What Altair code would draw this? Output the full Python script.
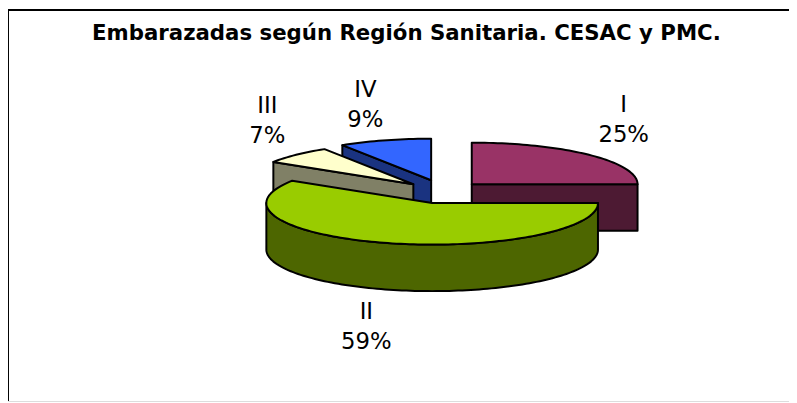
import math
import altair as alt
import pandas as pd

TITLE = "Embarazadas según Región Sanitaria. CESAC y PMC."
regions = ["I", "II", "III", "IV"]
shares = [25, 59, 7, 9]
top_colors = ["#993366", "#99CC00", "#FFFFCC", "#3366FF"]
side_colors = ["#4D1A33", "#4D6600", "#808066", "#1A3380"]

# layout of the exploded, tilted pie (plot-area pixels)
centres = {"I": (468.5, 176), "II": (428.5, 195), "III": (409.5, 176), "IV": (427.5, 172)}
RX, RY, DEPTH = 167.5, 42, 47
label_pos = {"I": (622, 96), "II": (362, 305), "III": (262, 97), "IV": (361, 81)}
LINE = 30

cum = [0]
for s in shares:
    cum.append(cum[-1] + s / sum(shares))
spans = {r: (cum[i], cum[i + 1]) for i, r in enumerate(regions)}


def pt(c, f, drop=0):
    a = 2 * math.pi * f
    return [c[0] + RX * math.sin(a), c[1] - RY * math.cos(a) + drop]


def arc(c, f0, f1, drop=0):
    n = max(2, int(abs(f1 - f0) * 240))
    return [pt(c, f0 + (f1 - f0) * i / n, drop) for i in range(n + 1)]


def feature(points, fill):
    ring = points + [points[0]]
    return {"type": "Feature", "properties": {"fill": fill},
            "geometry": {"type": "Polygon", "coordinates": [ring]}}


def cut_face(c, f, fill):
    a, b = [c[0], c[1]], pt(c, f)
    return feature([a, b, [b[0], b[1] + DEPTH], [a[0], a[1] + DEPTH]], fill)


def top_face(r, fill):
    c = centres[r]
    return feature([[c[0], c[1]]] + arc(c, *spans[r]), fill)


features = []
for r in ["I", "IV", "III", "II"]:
    i = regions.index(r)
    c = centres[r]
    f0, f1 = spans[r]
    if r == "II":
        lo, hi = f0, 0.75
        features.append(feature(arc(c, lo, hi) + arc(c, hi, lo, DEPTH), side_colors[i]))
    elif r == "I":
        features.append(cut_face(c, f1, side_colors[i]))
    else:
        features.append(cut_face(c, f0, side_colors[i]))
    features.append(top_face(r, top_colors[i]))

rows = []
for r, s in zip(regions, shares):
    x, y = label_pos[r]
    rows.append({"x": x, "y": y, "t": r})
    rows.append({"x": x, "y": y + LINE, "t": f"{s}%"})
labels = pd.DataFrame(rows)

W, H = 789, 395

pie = alt.Chart(alt.Data(values=features)).mark_geoshape(
    stroke="#000000", strokeWidth=2, strokeJoin="round"
).encode(
    fill=alt.Color("properties.fill:N", scale=None, legend=None)
).project(type="identity", scale=1, translate=[0, 0])

text = alt.Chart(labels).mark_text(
    font="DejaVu Sans", fontSize=23, color="#000000", baseline="middle", align="center"
).encode(
    x=alt.X("x:Q", scale=None, axis=None),
    y=alt.Y("y:Q", scale=None, axis=None),
    text="t:N",
)

frame_top = alt.Chart(pd.DataFrame({"a": [0]})).mark_rule(color="#000000", strokeWidth=2).encode(
    x=alt.value(0), x2=alt.value(W), y=alt.value(0)
)
frame_left = alt.Chart(pd.DataFrame({"a": [0]})).mark_rule(color="#000000", strokeWidth=2).encode(
    x=alt.value(0), y=alt.value(0), y2=alt.value(H)
)

chart = alt.layer(frame_top, frame_left, pie, text).properties(
    width=W,
    height=H,
    padding=0,
    autosize=alt.AutoSizeParams(type="none"),
    title=alt.TitleParams(
        TITLE, font="DejaVu Sans", fontSize=21.5, fontWeight="bold", color="#000000",
        anchor="middle", frame="group", offset=-47, dx=8, baseline="middle",
    ),
).configure_view(stroke=None).configure(background="#FFFFFF")

chart.save("out.html", embed_options={"renderer": "svg", "actions": False})
